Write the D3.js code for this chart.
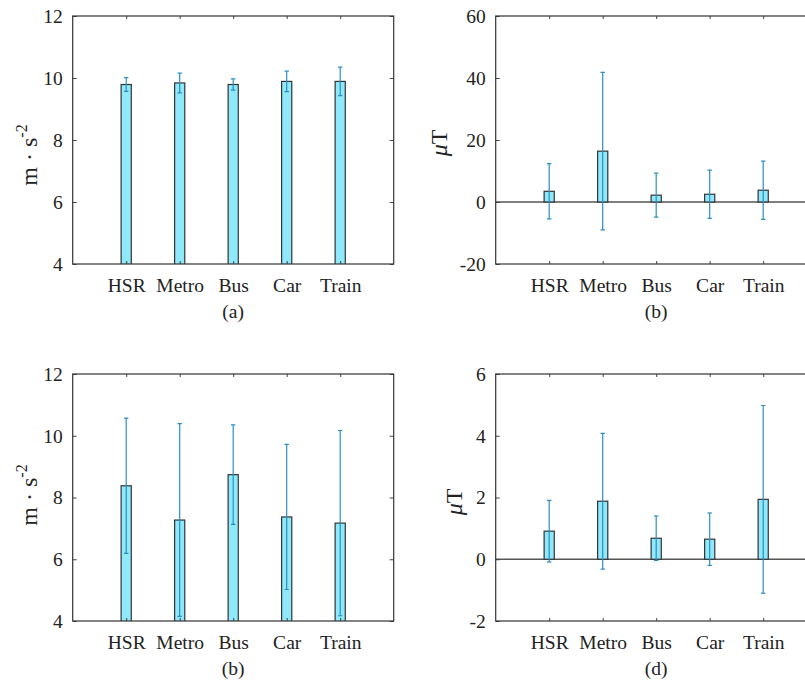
<!DOCTYPE html>
<html>
<head>
<meta charset="utf-8">
<script src="https://cdn.jsdelivr.net/npm/d3@7"></script>
<style>
  body { margin: 0; background: #fff; }
  svg { display: block; font-family: "Liberation Serif", "Times New Roman", serif; }
</style>
</head>
<body>
<div id="chart"></div>
<script>
const categories = ["HSR", "Metro", "Bus", "Car", "Train"];

// (a) acceleration, first set
const accMeanA = [9.79, 9.84, 9.79, 9.89, 9.89];
const accErrA = [0.22, 0.32, 0.18, 0.33, 0.46];
// (b) magnetic field, first set
const magMeanB = [3.45, 16.4, 2.2, 2.5, 3.8];
const magErrB = [8.9, 25.4, 7.1, 7.8, 9.4];
// (c) acceleration, second set (labelled "(b)" in the figure)
const accMeanC = [8.38, 7.27, 8.74, 7.37, 7.17];
const accErrC = [2.19, 3.12, 1.61, 2.35, 3.0];
// (d) magnetic field, second set
const magMeanD = [0.91, 1.88, 0.68, 0.65, 1.94];
const magErrD = [1.0, 2.2, 0.72, 0.85, 3.04];

const yTicksAcc = [4, 6, 8, 10, 12];
const yTicksMagB = [-20, 0, 20, 40, 60];
const yTicksMagD = [-2, 0, 2, 4, 6];

const width = 805, height = 681;
const barFill = "#8fe9fa", barStroke = "#333", errColor = "#2a8fc3";

const svg = d3.select("#chart").append("svg")
  .attr("width", width)
  .attr("height", height);

const panels = [
  { id: "a", left: 72.7, top: 16, h: 248, mean: accMeanA, err: accErrA, domain: [4, 12], ticks: yTicksAcc,
    ylab: "acc", labX: 37, labY: 155, tag: "(a)", zeroLine: false },
  { id: "b", left: 495.7, top: 16, h: 248, mean: magMeanB, err: magErrB, domain: [-20, 60], ticks: yTicksMagB,
    ylab: "mag", labX: 447, labY: 143, tag: "(b)", zeroLine: true },
  { id: "c", left: 72.7, top: 374, h: 247, mean: accMeanC, err: accErrC, domain: [4, 12], ticks: yTicksAcc,
    ylab: "acc", labX: 37, labY: 495, tag: "(b)", zeroLine: false },
  { id: "d", left: 495.7, top: 374, h: 247, mean: magMeanD, err: magErrD, domain: [-2, 6], ticks: yTicksMagD,
    ylab: "mag", labX: 462, labY: 502, tag: "(d)", zeroLine: true },
];

const axisW = 321;

panels.forEach(p => {
  const g = svg.append("g").attr("transform", `translate(${p.left},${p.top})`);
  const x = d3.scaleLinear().domain([0, 6]).range([0, axisW]);
  const y = d3.scaleLinear().domain(p.domain).range([p.h, 0]);
  const bw = x(0.19) - x(0);

  g.append("clipPath").attr("id", "clip-" + p.id)
    .append("rect").attr("width", axisW).attr("height", p.h);

  const plot = g.append("g").attr("clip-path", `url(#clip-${p.id})`);

  if (p.zeroLine) {
    plot.append("line")
      .attr("x1", 0).attr("x2", axisW)
      .attr("y1", y(0)).attr("y2", y(0))
      .attr("stroke", "#555").attr("stroke-width", 1.3);
  }

  // bars, drawn from zero baseline
  plot.selectAll("rect.bar")
    .data(p.mean)
    .join("rect")
    .attr("class", "bar")
    .attr("x", (d, i) => x(i + 1) - bw / 2)
    .attr("width", bw)
    .attr("y", d => y(Math.max(d, 0)))
    .attr("height", d => Math.abs(y(d) - y(0)))
    .attr("fill", barFill)
    .attr("stroke", barStroke)
    .attr("stroke-width", 1.2);

  // error bars
  const eb = plot.selectAll("g.err")
    .data(p.mean.map((m, i) => ({ m, e: p.err[i], i })))
    .join("g").attr("class", "err")
    .attr("stroke", errColor).attr("stroke-width", 1.2);
  eb.append("line")
    .attr("x1", d => x(d.i + 1)).attr("x2", d => x(d.i + 1))
    .attr("y1", d => y(d.m - d.e)).attr("y2", d => y(d.m + d.e));
  eb.append("line")
    .attr("x1", d => x(d.i + 1) - 2.2).attr("x2", d => x(d.i + 1) + 2.2)
    .attr("y1", d => y(d.m + d.e)).attr("y2", d => y(d.m + d.e));
  eb.append("line")
    .attr("x1", d => x(d.i + 1) - 2.2).attr("x2", d => x(d.i + 1) + 2.2)
    .attr("y1", d => y(d.m - d.e)).attr("y2", d => y(d.m - d.e));

  // axes with inward ticks (matlab style, box on)
  const yAxis = g.append("g")
    .call(d3.axisLeft(y).tickValues(p.ticks).tickSize(-4).tickPadding(10).tickFormat(d => String(d)));
  g.append("g").attr("transform", `translate(${axisW},0)`)
    .call(d3.axisRight(y).tickValues(p.ticks).tickSize(-4).tickFormat(""));
  const xAxis = g.append("g").attr("transform", `translate(0,${p.h})`)
    .call(d3.axisBottom(x).tickValues([1, 2, 3, 4, 5]).tickSize(-3).tickPadding(14)
      .tickFormat(d => categories[d - 1]));
  g.append("g")
    .call(d3.axisTop(x).tickValues([1, 2, 3, 4, 5]).tickSize(-3).tickFormat(""));

  g.selectAll(".domain").remove();
  g.selectAll(".tick line").attr("stroke", "#444");
  yAxis.selectAll("text").attr("font-size", 19.5).attr("fill", "#222")
    .attr("font-family", "Liberation Serif");
  xAxis.selectAll("text").attr("font-size", 19.5).attr("fill", "#222")
    .attr("font-family", "Liberation Serif").attr("dy", "0.71em");

  g.append("rect")
    .attr("width", axisW).attr("height", p.h)
    .attr("fill", "none").attr("stroke", "#333").attr("stroke-width", 1.2);

  // panel tag
  g.append("text")
    .attr("x", axisW / 2).attr("y", p.h + 54)
    .attr("text-anchor", "middle").attr("font-size", 19.5).attr("fill", "#222")
    .text(p.tag);

  // y label
  const lab = svg.append("text")
    .attr("transform", `translate(${p.labX},${p.labY}) rotate(-90)`)
    .attr("text-anchor", "middle").attr("fill", "#222").attr("font-size", 24);
  if (p.ylab === "acc") {
    lab.append("tspan").text("m \u00b7 s");
    lab.append("tspan").attr("font-size", 16).attr("dy", -10).text("-2");
  } else {
    lab.append("tspan").attr("font-style", "italic").text("\u03bc");
    lab.append("tspan").text("T");
  }
});
</script>
</body>
</html>
